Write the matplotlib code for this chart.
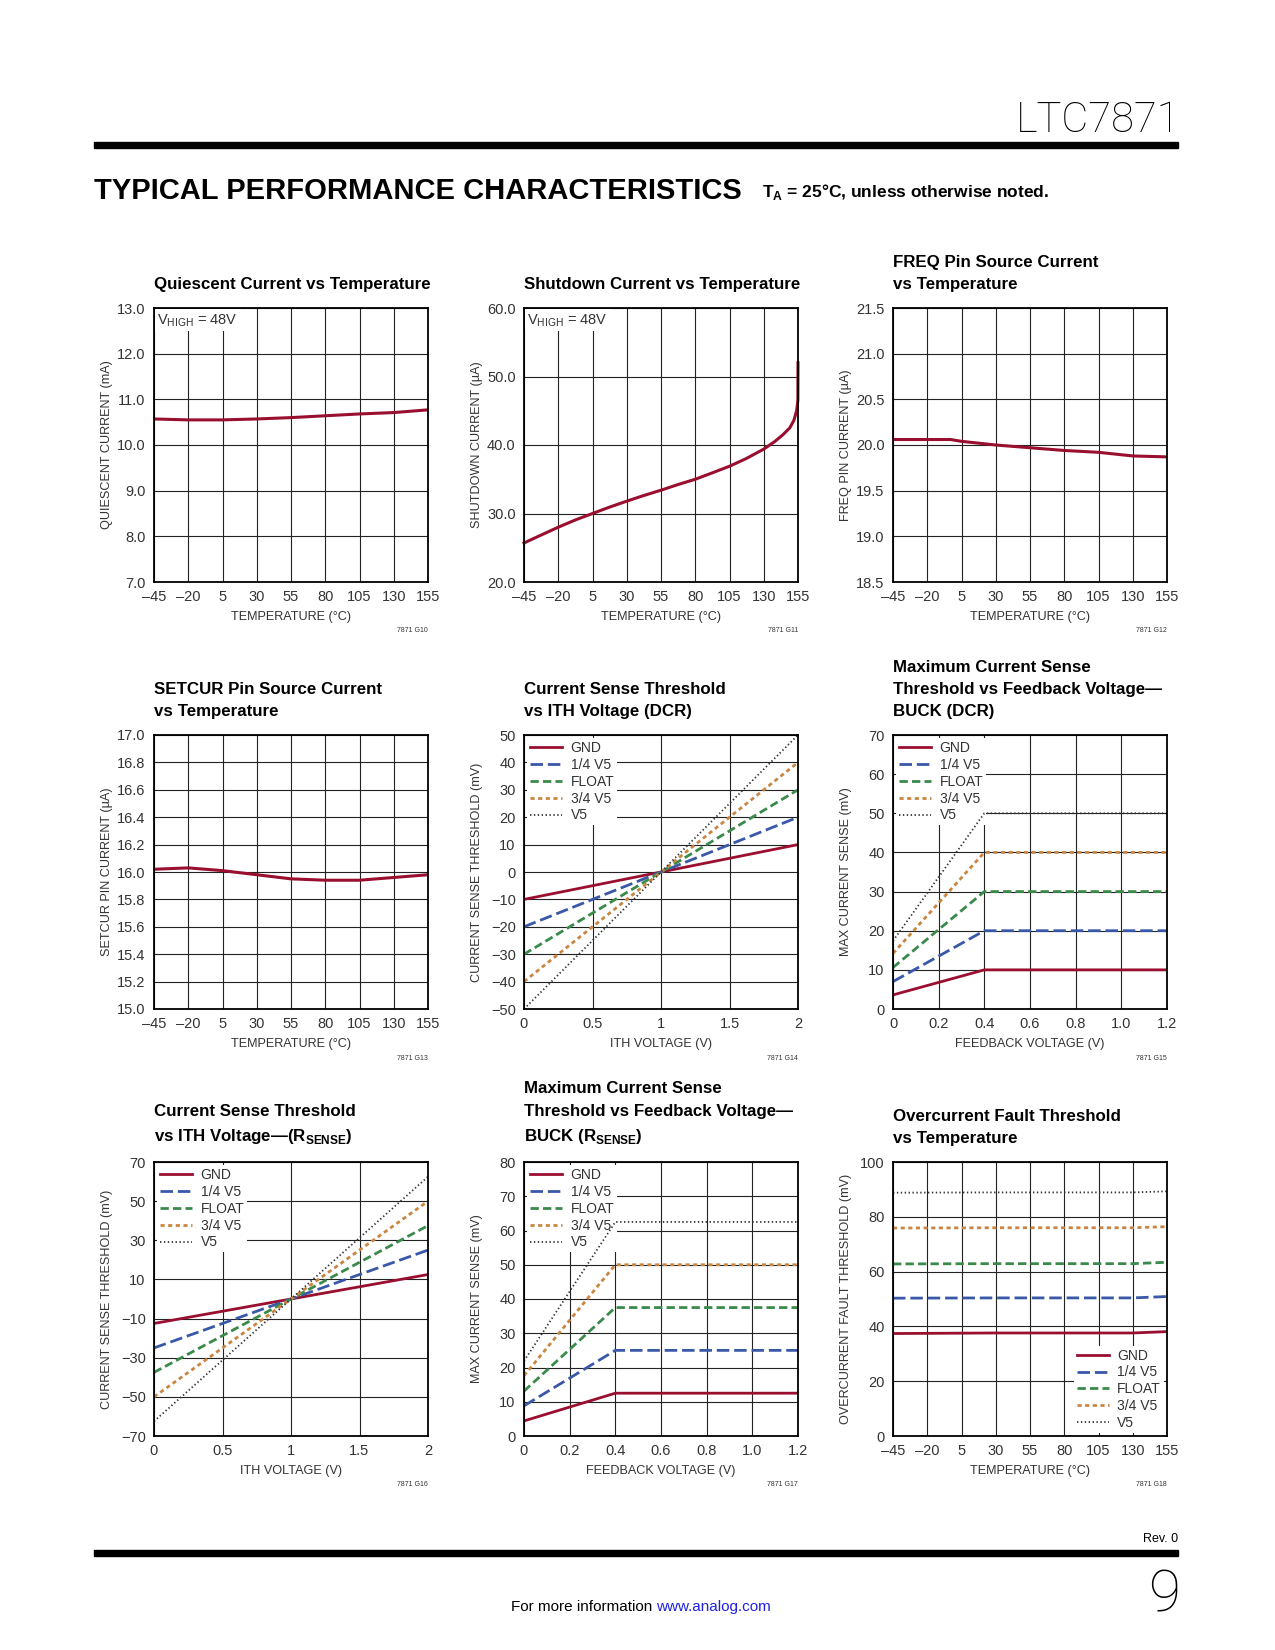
import matplotlib
matplotlib.use("Agg")
import matplotlib.pyplot as plt
from matplotlib.ticker import FormatStrFormatter

# Tamaño de la pagina en pixeles (a 100 dpi)
W, H = 1275, 1650

# ---- Datos ----
temp_c = [-45, -20, 5, 30, 55, 80, 105, 130, 155]
iq_ma = [10.57, 10.55, 10.55, 10.57, 10.60, 10.64, 10.68, 10.71, 10.77]

shdn_temp = [-45, -32, -20, -7, 5, 17, 30, 42, 55, 67, 80, 92, 105, 117, 130, 138, 144, 149, 152, 154, 154.9, 155]
shdn_ua = [25.7, 26.9, 28.0, 29.1, 30.0, 30.9, 31.8, 32.6, 33.4, 34.2, 35.0, 35.9, 36.9, 38.0, 39.4, 40.5, 41.5, 42.5, 43.6, 45.0, 46.5, 52.0]

freq_temp = [-45, -20, -3, 5, 30, 55, 80, 105, 130, 155]
freq_ua = [20.06, 20.06, 20.06, 20.04, 20.00, 19.97, 19.94, 19.92, 19.88, 19.87]

setcur_ua = [16.02, 16.03, 16.01, 15.98, 15.95, 15.94, 15.94, 15.96, 15.98]

modos = ["GND", "1/4 V5", "FLOAT", "3/4 V5", "V5"]

ith_v = [0, 1, 2]
cs_dcr_mv = [[-10, 0, 10], [-20, 0, 20], [-30, 0, 30], [-40, 0, 40], [-50, 0, 50]]
cs_rsense_mv = [[-12.5, 0, 12.5], [-25, 0, 25], [-37.5, 0, 37.5], [-50, 0, 50], [-62.5, 0, 62.5]]

fb_v = [0, 0.4, 1.2]
max_dcr_mv = [[3.6, 10, 10], [7.0, 20, 20], [10.6, 30, 30], [14.2, 40, 40], [17.4, 50, 50]]
max_rsense_mv = [[4.4, 12.5, 12.5], [8.8, 25, 25], [13.1, 37.5, 37.5], [17.6, 50, 50], [21.9, 62.5, 62.5]]

ocp_temp = [-45, 30, 130, 155]
ocp_mv = [[37.4, 37.6, 37.6, 38.1],
          [50.3, 50.4, 50.4, 50.9],
          [62.8, 62.9, 62.9, 63.4],
          [75.9, 76.0, 76.0, 76.4],
          [88.8, 88.9, 88.9, 89.3]]

temp_ticks = [-45, -20, 5, 30, 55, 80, 105, 130, 155]
temp_labels = [str(t).replace("-", "\u2013") for t in temp_ticks]

# ---- Estilos ----
rojo = "#9a0f30"
colores = [rojo, "#3a58a8", "#3a8a4c", "#c98643", "#333333"]
grosores = [2.0, 2.0, 2.0, 2.0, 1.3]
trazos = [None, (9, 3.5), (6, 3), (3, 2.5), (1, 1.8)]

plt.rcParams["font.family"] = ["Liberation Sans", "DejaVu Sans"]
plt.rcParams["mathtext.fontset"] = "custom"
plt.rcParams["mathtext.rm"] = "Liberation Sans"
plt.rcParams["mathtext.bf"] = "Liberation Sans:bold"
plt.rcParams["lines.scale_dashes"] = False
plt.rcParams["axes.unicode_minus"] = True

fig = plt.figure(figsize=(W / 100, H / 100), dpi=100)

cols = [154, 524, 893]
rows = [308, 735, 1162]
AW, AH = 274, 274


def fx(x):
    return x / W


def fy(y):
    return 1 - y / H


def panel(c, r, titulo, ylab, xlab, codigo, xlim, xticks, xlabels, ylim, yticks, yfmt=None):
    left, top = cols[c], rows[r]
    ax = fig.add_axes([fx(left), fy(top + AH), AW / W, AH / H])
    ax.set_xlim(xlim)
    ax.set_ylim(ylim)
    ax.set_xticks(xticks)
    ax.set_xticklabels(xlabels)
    ax.set_yticks(yticks)
    if yfmt:
        ax.yaxis.set_major_formatter(FormatStrFormatter(yfmt))
    ax.grid(True, color="#222222", linewidth=0.8)
    ax.tick_params(length=0, pad=6, labelsize=10.5, labelcolor="#333333")
    for s in ax.spines.values():
        s.set_linewidth(1.3)
        s.set_color("black")
    # titulo arriba a la izquierda
    fig.text(fx(left), fy(top - 16), titulo, ha="left", va="bottom",
             fontsize=12.2, fontweight="bold", linespacing=1.6)
    ax.text(-47 / AW, 0.5, ylab, rotation=90, ha="center", va="center",
            fontsize=9.1, color="#333333", transform=ax.transAxes)
    ax.text(0.5, -35 / AH, xlab, ha="center", va="center",
            fontsize=9.1, color="#333333", transform=ax.transAxes)
    ax.text(1.0, -49 / AH, codigo, ha="right", va="center",
            fontsize=5, color="#333333", transform=ax.transAxes)
    return ax


def leyenda(ax, loc):
    lg = ax.legend(loc=loc, fontsize=10, frameon=True, fancybox=False,
                   handlelength=2.3, handletextpad=0.6, labelspacing=0.2,
                   borderpad=0.2, borderaxespad=0.25)
    lg.get_frame().set_facecolor("white")
    lg.get_frame().set_edgecolor("none")
    lg.get_frame().set_alpha(1)
    # la leyenda tapa la rejilla pero no las curvas
    lg.set_zorder(1.8)
    for t in lg.get_texts():
        t.set_color("#333333")


def series(ax, x, ys):
    for i, y in enumerate(ys):
        ln, = ax.plot(x, y, color=colores[i], linewidth=grosores[i], label=modos[i])
        if trazos[i] is not None:
            ln.set_dashes(trazos[i])


vhigh = r"V$_\mathrm{HIGH}$ = 48V"
caja = dict(facecolor="white", edgecolor="none", pad=2)

# 1. Quiescent current
ax = panel(0, 0, "Quiescent Current vs Temperature", "QUIESCENT CURRENT (mA)",
           "TEMPERATURE (°C)", "7871 G10", (-45, 155), temp_ticks, temp_labels,
           (7, 13), [7, 8, 9, 10, 11, 12, 13], "%.1f")
ax.plot(temp_c, iq_ma, color=rojo, linewidth=2.2)
ax.text(0.012, 0.955, vhigh, fontsize=10.5, color="#333333", va="center", ha="left",
        transform=ax.transAxes, bbox=caja)

# 2. Shutdown current
ax = panel(1, 0, "Shutdown Current vs Temperature", "SHUTDOWN CURRENT (µA)",
           "TEMPERATURE (°C)", "7871 G11", (-45, 155), temp_ticks, temp_labels,
           (20, 60), [20, 30, 40, 50, 60], "%.1f")
ax.plot(shdn_temp, shdn_ua, color=rojo, linewidth=2.2, clip_on=False)
ax.text(0.012, 0.955, vhigh, fontsize=10.5, color="#333333", va="center", ha="left",
        transform=ax.transAxes, bbox=caja)

# 3. FREQ pin
ax = panel(2, 0, "FREQ Pin Source Current\nvs Temperature", "FREQ PIN CURRENT (µA)",
           "TEMPERATURE (°C)", "7871 G12", (-45, 155), temp_ticks, temp_labels,
           (18.5, 21.5), [18.5, 19.0, 19.5, 20.0, 20.5, 21.0, 21.5], "%.1f")
ax.plot(freq_temp, freq_ua, color=rojo, linewidth=2.2)

# 4. SETCUR pin
ax = panel(0, 1, "SETCUR Pin Source Current\nvs Temperature", "SETCUR PIN CURRENT (µA)",
           "TEMPERATURE (°C)", "7871 G13", (-45, 155), temp_ticks, temp_labels,
           (15, 17), [15 + 0.2 * k for k in range(11)], "%.1f")
ax.plot(temp_c, setcur_ua, color=rojo, linewidth=2.2)

# 5. Current sense threshold DCR
ax = panel(1, 1, "Current Sense Threshold\nvs ITH Voltage (DCR)", "CURRENT SENSE THRESHOLD (mV)",
           "ITH VOLTAGE (V)", "7871 G14", (0, 2), [0, 0.5, 1, 1.5, 2], ["0", "0.5", "1", "1.5", "2"],
           (-50, 50), list(range(-50, 51, 10)))
series(ax, ith_v, cs_dcr_mv)
leyenda(ax, "upper left")

# 6. Max current sense DCR
ax = panel(2, 1, "Maximum Current Sense\nThreshold vs Feedback Voltage—\nBUCK (DCR)", "MAX CURRENT SENSE (mV)",
           "FEEDBACK VOLTAGE (V)", "7871 G15", (0, 1.2), [0, 0.2, 0.4, 0.6, 0.8, 1.0, 1.2],
           ["0", "0.2", "0.4", "0.6", "0.8", "1.0", "1.2"], (0, 70), list(range(0, 71, 10)))
series(ax, fb_v, max_dcr_mv)
leyenda(ax, "upper left")

# 7. Current sense threshold RSENSE
ax = panel(0, 2, "Current Sense Threshold\nvs ITH Voltage—(R$_\\mathbf{SENSE}$)", "CURRENT SENSE THRESHOLD (mV)",
           "ITH VOLTAGE (V)", "7871 G16", (0, 2), [0, 0.5, 1, 1.5, 2], ["0", "0.5", "1", "1.5", "2"],
           (-70, 70), list(range(-70, 71, 20)))
series(ax, ith_v, cs_rsense_mv)
leyenda(ax, "upper left")

# 8. Max current sense RSENSE
ax = panel(1, 2, "Maximum Current Sense\nThreshold vs Feedback Voltage—\nBUCK (R$_\\mathbf{SENSE}$)", "MAX CURRENT SENSE (mV)",
           "FEEDBACK VOLTAGE (V)", "7871 G17", (0, 1.2), [0, 0.2, 0.4, 0.6, 0.8, 1.0, 1.2],
           ["0", "0.2", "0.4", "0.6", "0.8", "1.0", "1.2"], (0, 80), list(range(0, 81, 10)))
series(ax, fb_v, max_rsense_mv)
leyenda(ax, "upper left")

# 9. Overcurrent fault
ax = panel(2, 2, "Overcurrent Fault Threshold\nvs Temperature", "OVERCURRENT FAULT THRESHOLD (mV)",
           "TEMPERATURE (°C)", "7871 G18", (-45, 155), temp_ticks, temp_labels,
           (0, 100), [0, 20, 40, 60, 80, 100])
series(ax, ocp_temp, ocp_mv)
leyenda(ax, "lower right")

# ---- Encabezado y pie de pagina ----
fig.text(fx(1180), fy(121), "LTC7871", ha="right", va="center", fontsize=30,
         family=["Roboto", "DejaVu Sans"], fontweight="light")
fig.add_artist(plt.Rectangle((fx(94), fy(148)), (1178 - 94) / W, 6 / H,
                             transform=fig.transFigure, color="black"))
fig.text(fx(94), fy(191), "TYPICAL PERFORMANCE CHARACTERISTICS", ha="left", va="center",
         fontsize=21, fontweight="bold")
fig.text(fx(762), fy(192), r"T$_\mathbf{A}$ = 25°C, unless otherwise noted.", ha="left",
         va="center", fontsize=12.5, fontweight="bold")

fig.text(fx(1178), fy(1539), "Rev. 0", ha="right", va="center", fontsize=9)
fig.add_artist(plt.Rectangle((fx(94), fy(1556)), (1178 - 94) / W, 6 / H,
                             transform=fig.transFigure, color="black"))
fig.text(fx(1180), fy(1596), "9", ha="right", va="center", fontsize=42,
         family=["Roboto", "DejaVu Sans"], fontweight="light")
t1 = fig.text(fx(511), fy(1607), "For more information ", ha="left", va="center", fontsize=11)
fig.canvas.draw()
bb = t1.get_window_extent()
fig.text(bb.x1 / W, fy(1607), "www.analog.com", ha="left", va="center", fontsize=11, color="#2020e0")

plt.savefig("out.png", dpi=100)
